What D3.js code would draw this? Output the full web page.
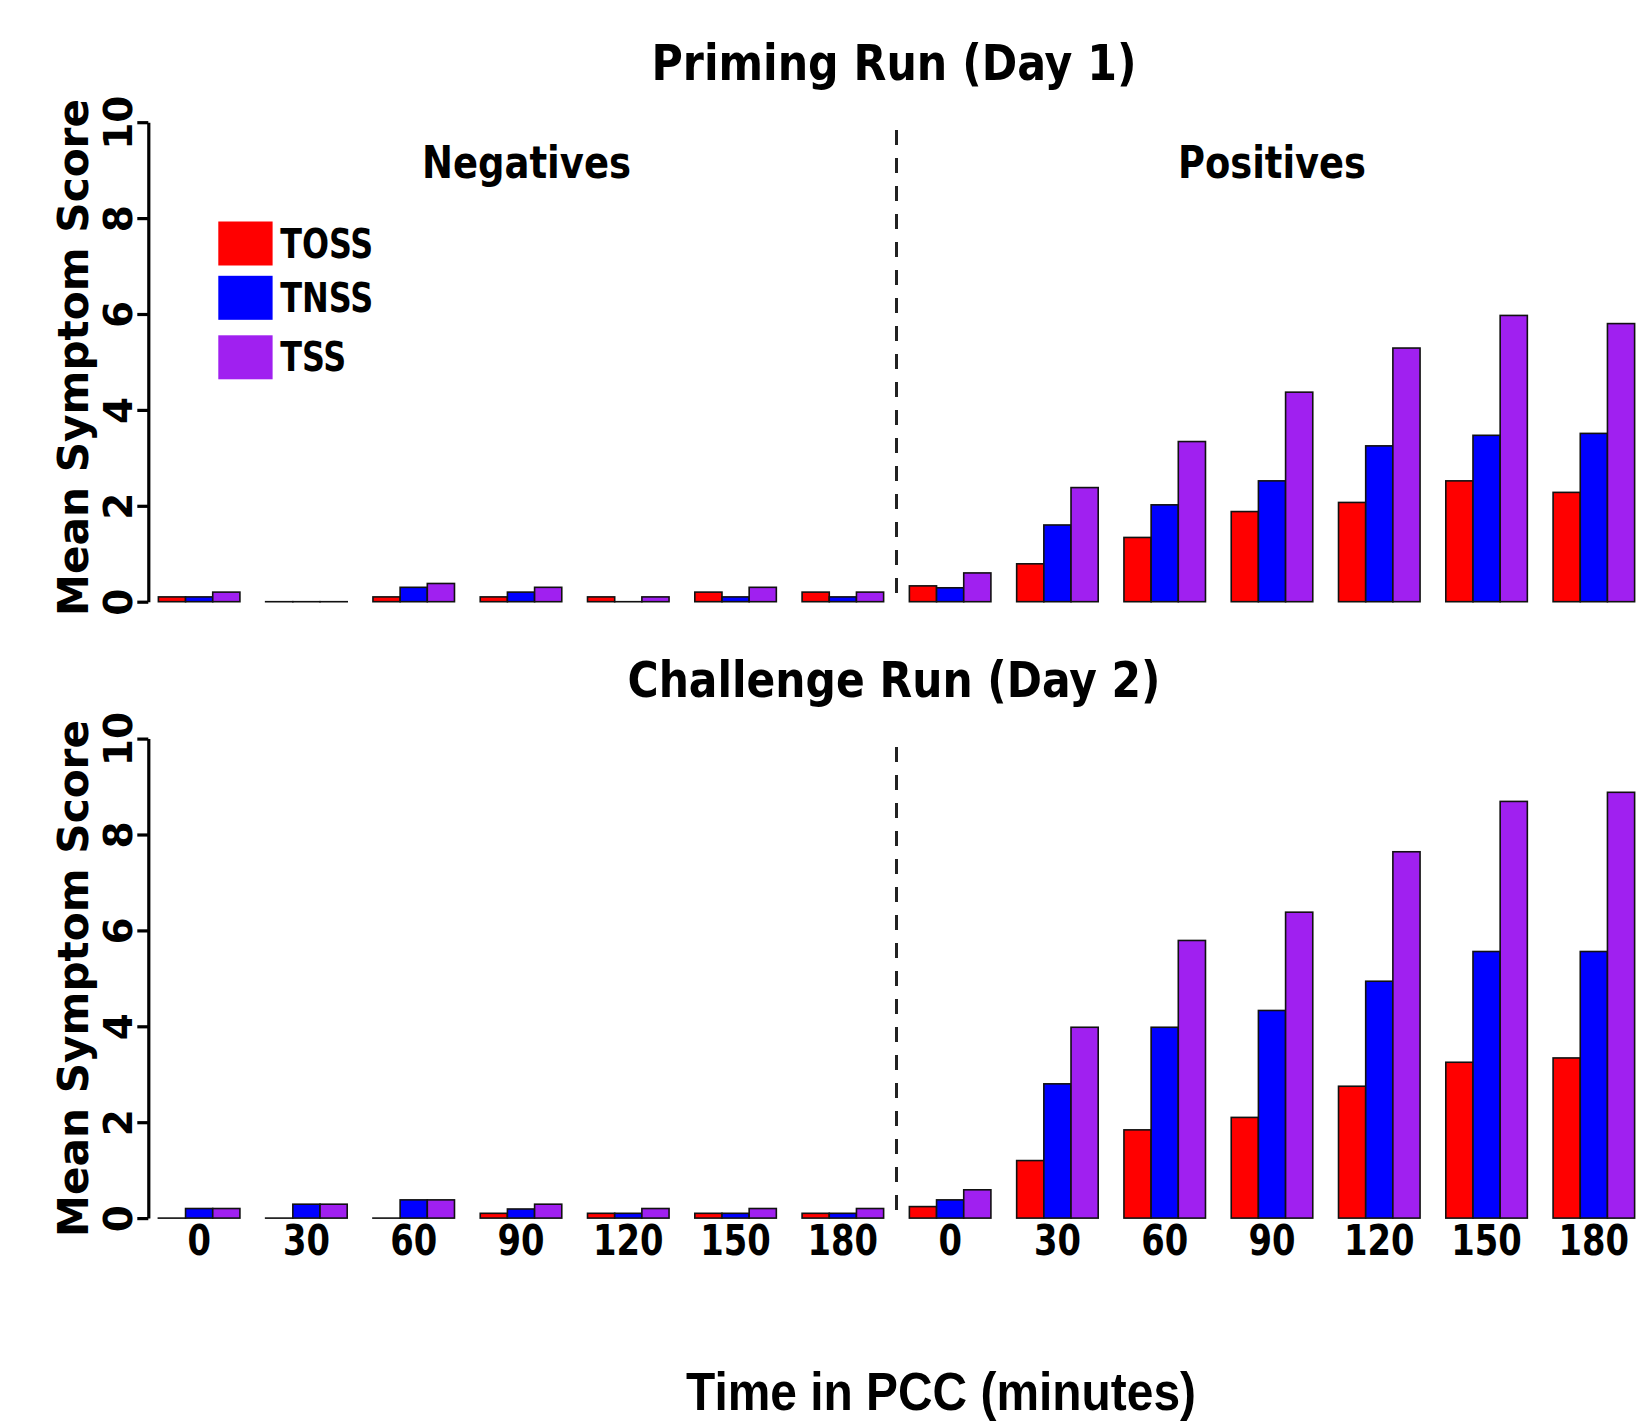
<!DOCTYPE html>
<html>
<head>
<meta charset="utf-8">
<script src="https://cdn.jsdelivr.net/npm/d3@7"></script>
<style>
  body { margin: 0; background: #fff; }
  svg { display: block; }
</style>
</head>
<body>
<svg id="chart" width="1638" height="1422"></svg>
<script>
// categories
const groups = ['Negatives', 'Positives'];
const times = ['0', '30', '60', '90', '120', '150', '180'];
const series = ['TOSS', 'TNSS', 'TSS'];
const colors = ['#ff0000', '#0000ff', '#a020f0'];
const yTicks = [0, 2, 4, 6, 8, 10];

// Priming Run (Day 1)
const primNegTOSS = [0.1, 0, 0.1, 0.1, 0.1, 0.2, 0.2];
const primNegTNSS = [0.1, 0, 0.3, 0.2, 0, 0.1, 0.1];
const primNegTSS  = [0.2, 0, 0.38, 0.3, 0.1, 0.3, 0.2];
const primPosTOSS = [0.33, 0.79, 1.34, 1.88, 2.07, 2.52, 2.28];
const primPosTNSS = [0.29, 1.6, 2.02, 2.52, 3.25, 3.47, 3.51];
const primPosTSS  = [0.6, 2.38, 3.34, 4.37, 5.29, 5.97, 5.8];

// Challenge Run (Day 2)
const chalNegTOSS = [0, 0, 0, 0.1, 0.1, 0.1, 0.1];
const chalNegTNSS = [0.2, 0.29, 0.38, 0.19, 0.1, 0.1, 0.1];
const chalNegTSS  = [0.2, 0.29, 0.38, 0.29, 0.2, 0.2, 0.2];
const chalPosTOSS = [0.24, 1.2, 1.84, 2.1, 2.75, 3.25, 3.34];
const chalPosTNSS = [0.38, 2.8, 3.98, 4.33, 4.94, 5.56, 5.56];
const chalPosTSS  = [0.59, 3.98, 5.79, 6.38, 7.64, 8.69, 8.88];

const condensed = '"DejaVu Sans Condensed", "DejaVu Sans", sans-serif';
const wide = '"DejaVu Sans", Verdana, sans-serif';

const svg = d3.select('#chart');

// one category per (group, time) pair
const cats = [];
groups.forEach(g => times.forEach(t => cats.push(g + '|' + t)));

const x = d3.scaleBand()
    .domain(cats)
    .range([145.5, 1647.5])
    .paddingInner(0.24)
    .paddingOuter(0.12);

const xs = d3.scaleBand()
    .domain(series)
    .range([0, x.bandwidth()]);

function rowsOf(neg, pos) {
    const rows = [];
    const tables = { Negatives: neg, Positives: pos };
    groups.forEach(g => {
        times.forEach((t, i) => {
            series.forEach((s, j) => {
                rows.push({ cat: g + '|' + t, series: s, value: tables[g][j][i] });
            });
        });
    });
    return rows;
}

const panels = [
    {
        title: 'Priming Run (Day 1)', titleLen: 485, titleY: 80,
        range: [601.7, 122.2], labelY: 357.5, dashTop: 130,
        rows: rowsOf([primNegTOSS, primNegTNSS, primNegTSS], [primPosTOSS, primPosTNSS, primPosTSS]),
        groupLabels: true, legend: true, xLabels: false
    },
    {
        title: 'Challenge Run (Day 2)', titleLen: 533, titleY: 697,
        range: [1218.1, 738.6], labelY: 978.5, dashTop: 747,
        rows: rowsOf([chalNegTOSS, chalNegTNSS, chalNegTSS], [chalPosTOSS, chalPosTNSS, chalPosTSS]),
        groupLabels: false, legend: false, xLabels: true
    }
];

const color = d3.scaleOrdinal().domain(series).range(colors);

panels.forEach(p => {
    const y = d3.scaleLinear().domain([0, 10]).range(p.range);
    const g = svg.append('g');

    // title
    g.append('text')
        .attr('x', 894).attr('y', p.titleY)
        .attr('text-anchor', 'middle')
        .attr('font-family', condensed).attr('font-weight', 'bold')
        .attr('font-size', 50)
        .attr('textLength', p.titleLen).attr('lengthAdjust', 'spacingAndGlyphs')
        .text(p.title);

    // bars
    g.selectAll('rect.bar')
        .data(p.rows)
        .enter().append('rect')
        .attr('class', 'bar')
        .attr('x', d => x(d.cat) + xs(d.series))
        .attr('width', xs.bandwidth())
        .attr('y', d => y(d.value))
        .attr('height', d => Math.max(y(0) - y(d.value), 0.01))
        .attr('fill', d => color(d.series))
        .attr('stroke', '#111')
        .attr('stroke-width', 1.6);

    // y axis
    const axis = g.append('g')
        .attr('transform', 'translate(148.3,0)')
        .call(d3.axisLeft(y).tickValues(yTicks).tickSize(11).tickSizeOuter(0));
    axis.select('.domain').attr('stroke', '#000').attr('stroke-width', 3.2);
    axis.selectAll('.tick line').attr('stroke', '#000').attr('stroke-width', 3.2);
    axis.selectAll('.tick text')
        .attr('x', null).attr('dy', null)
        .attr('text-anchor', 'middle')
        .attr('transform', 'translate(-16,0) rotate(-90)')
        .attr('font-family', wide).attr('font-weight', 'bold')
        .attr('font-size', 39).attr('fill', '#000');

    // y axis label
    g.append('text')
        .attr('transform', `translate(88,${p.labelY}) rotate(-90)`)
        .attr('text-anchor', 'middle')
        .attr('font-family', wide).attr('font-weight', 'bold')
        .attr('font-size', 42)
        .attr('textLength', 517).attr('lengthAdjust', 'spacingAndGlyphs')
        .text('Mean Symptom Score');

    // dashed divider between negatives and positives
    const dx = (x(groups[0] + '|' + times[times.length - 1]) + x.bandwidth() + x(groups[1] + '|' + times[0])) / 2;
    g.append('line')
        .attr('x1', dx).attr('x2', dx)
        .attr('y1', p.dashTop).attr('y2', y(0) + 2)
        .attr('stroke', '#222').attr('stroke-width', 3)
        .attr('stroke-dasharray', '15,13');

    if (p.groupLabels) {
        const glab = [
            { text: groups[0], x: 526.5, len: 209 },
            { text: groups[1], x: 1272, len: 188 }
        ];
        g.selectAll('text.grp')
            .data(glab)
            .enter().append('text')
            .attr('class', 'grp')
            .attr('x', d => d.x).attr('y', 177.6)
            .attr('text-anchor', 'middle')
            .attr('font-family', condensed).attr('font-weight', 'bold')
            .attr('font-size', 44)
            .attr('textLength', d => d.len).attr('lengthAdjust', 'spacingAndGlyphs')
            .text(d => d.text);
    }

    if (p.legend) {
        const legY = [221.5, 275.8, 335.3];
        const legLen = [93, 93, 66];
        const leg = g.selectAll('g.leg')
            .data(series)
            .enter().append('g')
            .attr('class', 'leg')
            .attr('transform', (d, i) => `translate(218.3,${legY[i]})`);
        leg.append('rect')
            .attr('width', 54.3).attr('height', 44)
            .attr('fill', d => color(d));
        leg.append('text')
            .attr('x', 62).attr('y', 36)
            .attr('font-family', condensed).attr('font-weight', 'bold')
            .attr('font-size', 40)
            .attr('textLength', (d, i) => legLen[i]).attr('lengthAdjust', 'spacingAndGlyphs')
            .text(d => d);
    }

    if (p.xLabels) {
        g.selectAll('text.xt')
            .data(cats)
            .enter().append('text')
            .attr('class', 'xt')
            .attr('x', d => x(d) + x.bandwidth() / 2)
            .attr('y', 1255)
            .attr('text-anchor', 'middle')
            .attr('font-family', condensed).attr('font-weight', 'bold')
            .attr('font-size', 43)
            .attr('textLength', d => d.split('|')[1].length * 23.5)
            .attr('lengthAdjust', 'spacingAndGlyphs')
            .text(d => d.split('|')[1]);
    }
});

// shared x axis title
svg.append('text')
    .attr('x', 941).attr('y', 1410)
    .attr('text-anchor', 'middle')
    .attr('font-family', '"Liberation Sans", Arial, sans-serif').attr('font-weight', 'bold')
    .attr('font-size', 53)
    .attr('textLength', 510).attr('lengthAdjust', 'spacingAndGlyphs')
    .text('Time in PCC (minutes)');
</script>
</body>
</html>
